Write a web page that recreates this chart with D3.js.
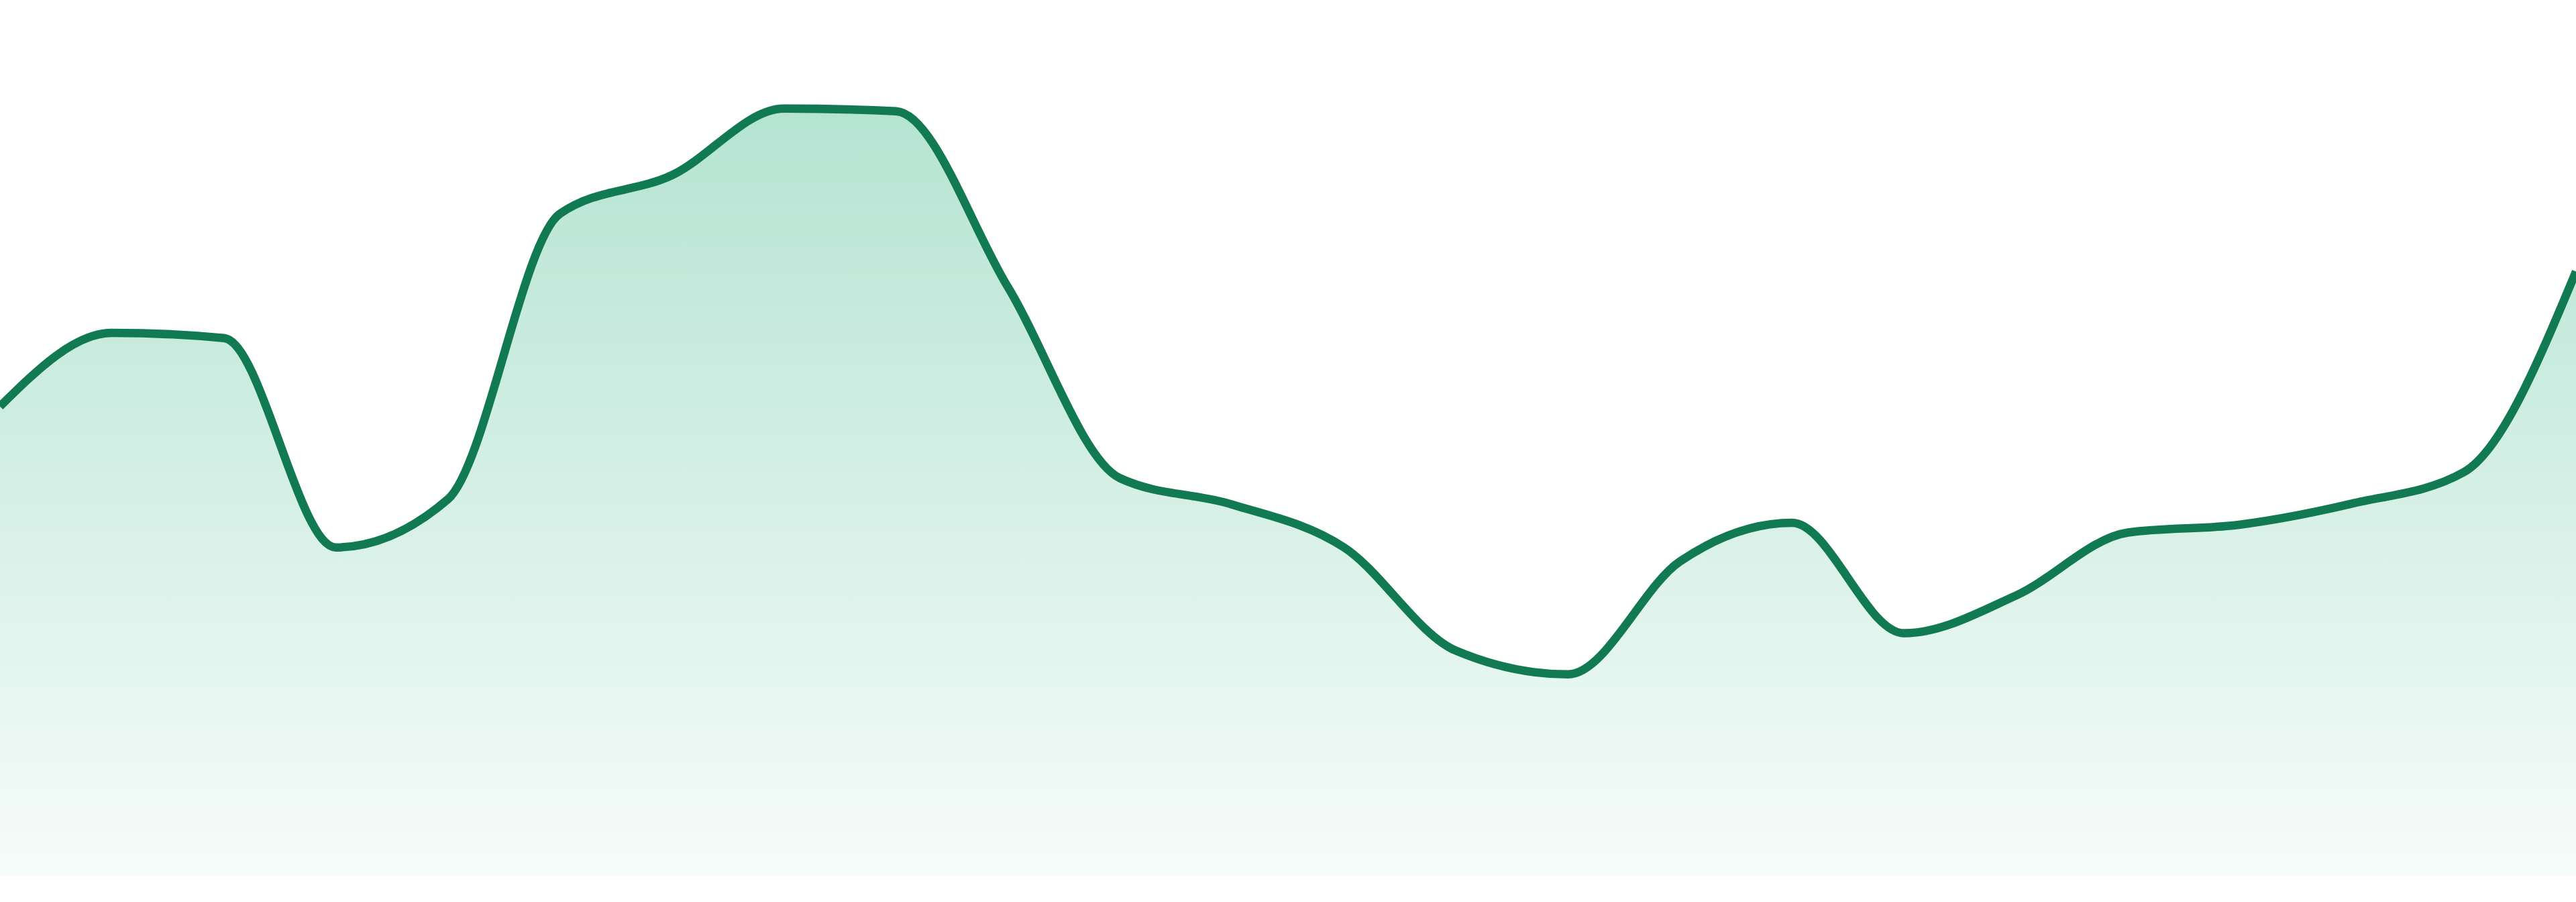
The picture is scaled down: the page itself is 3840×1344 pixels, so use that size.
<!DOCTYPE html>
<html>
<head>
<meta charset="utf-8">
<script src="https://cdn.jsdelivr.net/npm/d3@7"></script>
<style>
  html, body { margin: 0; padding: 0; background: #fff; overflow: hidden; }
  svg { display: block; }
</style>
</head>
<body>
<div class="area-chart-container"></div>
<script>
// values, one per evenly spaced step
const steps = d3.range(24);
const values = [
  53.6, 62.0, 61.4, 37.5, 43.0, 75.6, 80.0, 87.6,
  87.3, 67.2, 45.4, 42.4, 37.5, 25.7, 23.0, 35.9,
  40.3, 27.7, 32.0, 39.2, 40.1, 42.5, 46.1, 69.0
];
const yDomain = [0, 100];

function setupCanvas(data){
    const svg_width = 3840;
    const svg_height = 1344;
    const chart_margin = {top:0, right:0, bottom:39, left:0};
    const chart_width = svg_width - (chart_margin.left + chart_margin.right);
    const chart_height = svg_height - (chart_margin.top + chart_margin.bottom);

    const svg = d3.select('.area-chart-container')
                  .append('svg')
                  .attr('width', svg_width).attr('height', svg_height);

    // vertical fade under the line
    const grad = svg.append('defs').append('linearGradient')
                    .attr('id', 'fade')
                    .attr('x1', 0).attr('y1', 0).attr('x2', 0).attr('y2', 1);
    grad.append('stop').attr('offset', '0%')
        .attr('stop-color', '#07a46b').attr('stop-opacity', 0.3);
    grad.append('stop').attr('offset', '100%')
        .attr('stop-color', '#07a46b').attr('stop-opacity', 0.035);

    const g = svg.append('g')
                 .attr('transform', `translate(${chart_margin.left},${chart_margin.top})`);

    const xScale = d3.scaleLinear().domain(d3.extent(data, d => d.step)).range([0, chart_width]);
    const yScale = d3.scaleLinear().domain(yDomain).range([chart_height, 0]);

    const area = d3.area()
                   .curve(d3.curveMonotoneX)
                   .x(d => xScale(d.step))
                   .y0(yScale(0))
                   .y1(d => yScale(d.value));

    const line = d3.line()
                   .curve(d3.curveMonotoneX)
                   .x(d => xScale(d.step))
                   .y(d => yScale(d.value));

    g.append('path')
     .datum(data)
     .attr('d', area)
     .style('fill', 'url(#fade)');

    g.append('path')
     .datum(data)
     .attr('d', line)
     .style('fill', 'none')
     .style('stroke', '#117a52')
     .style('stroke-width', 12.5)
     .style('stroke-linejoin', 'round');
}

const data = steps.map((s, i) => ({step: s, value: values[i]}));
setupCanvas(data);
</script>
</body>
</html>
